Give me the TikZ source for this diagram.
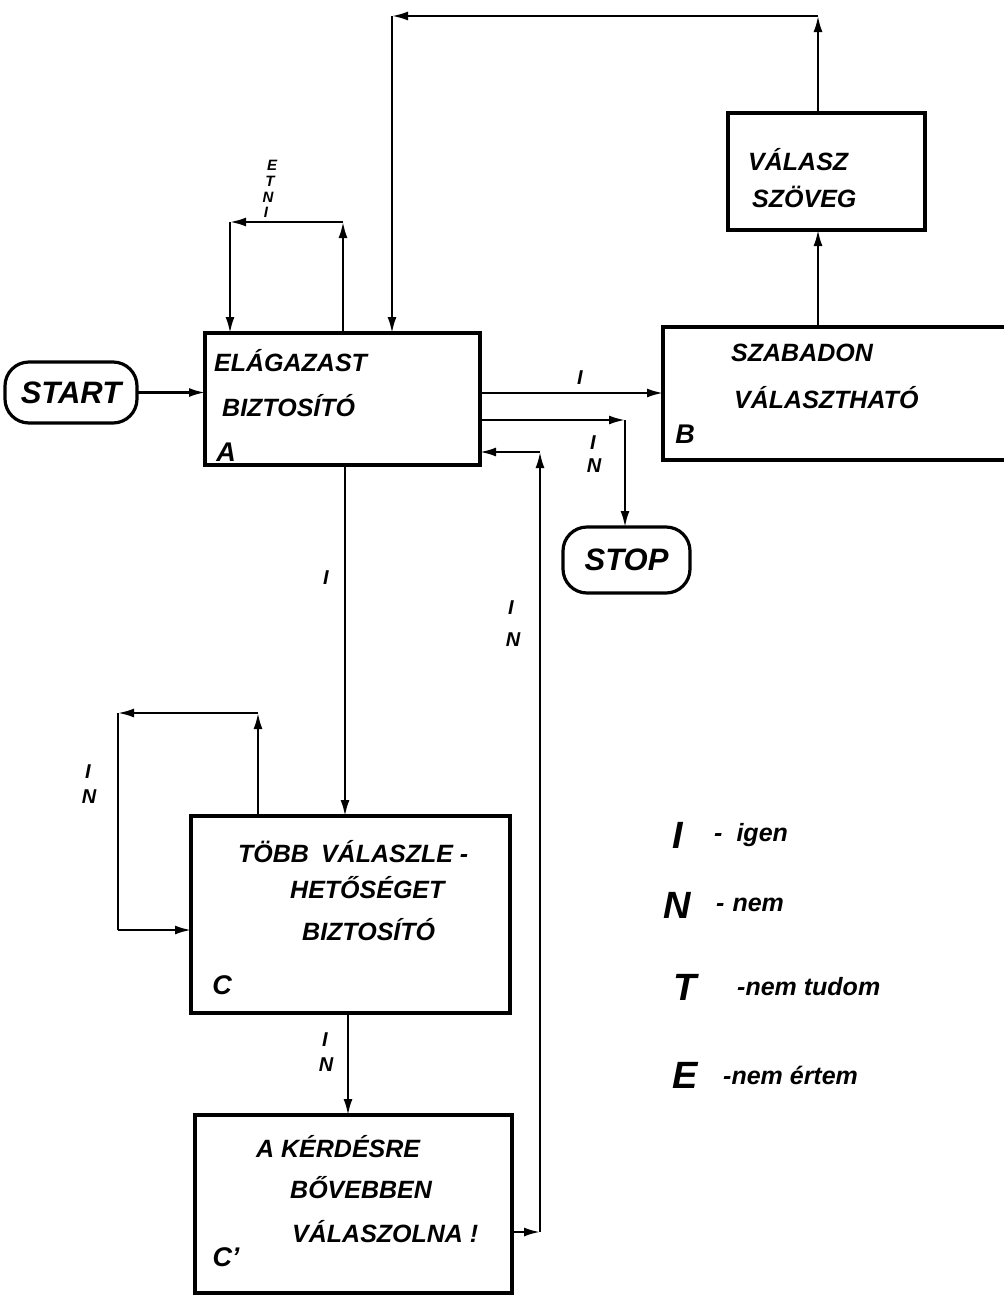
\documentclass[tikz,border=0pt]{standalone}
\usepackage{fontspec}
\setmainfont{Liberation Sans}
\usetikzlibrary{arrows.meta}
\begin{document}
\begin{tikzpicture}[x=1pt,y=-1pt,
  box/.style={draw, line width=3.4pt, rectangle, inner sep=0pt, outer sep=0pt},
  term/.style={draw, line width=3.2pt, rectangle, rounded corners=24pt, inner sep=0pt, outer sep=0pt,
    font=\fontsize{31}{32}\selectfont\bfseries\itshape},
  conn/.style={line width=2.2pt, -{Latex[length=16pt,width=9pt]}},
  plain/.style={line width=2.2pt},
  txt/.style={inner sep=0pt, anchor=west, font=\fontsize{25}{27}\selectfont\bfseries\itshape},
  corner/.style={inner sep=0pt, font=\fontsize{27}{28}\selectfont\bfseries\itshape},
  lab/.style={inner sep=0pt, font=\fontsize{20}{21}\selectfont\bfseries\itshape},
  tiny/.style={inner sep=0pt, font=\fontsize{15}{15}\selectfont\bfseries\itshape},
  big/.style={inner sep=0pt, font=\fontsize{38}{40}\selectfont\bfseries\itshape},
  leg/.style={inner sep=0pt, anchor=west, font=\fontsize{25}{27}\selectfont\bfseries\itshape}
]
\fill[white] (0,0) rectangle (1004,1296);
\useasboundingbox (0,0) rectangle (1004,1296);

% boxes
\node[term, minimum width=132pt, minimum height=61pt] (START) at (71,392.5) {START};
\node[term, minimum width=127pt, minimum height=66pt] (STOP) at (626.5,560) {STOP};
\node[box, minimum width=275pt, minimum height=132pt] (A) at (342.5,399) {};
\node[box, minimum width=367pt, minimum height=133pt] (B) at (846.5,393.5) {};
\node[box, minimum width=197pt, minimum height=117pt] (V) at (826.5,171.5) {};
\node[box, minimum width=319pt, minimum height=197pt] (C) at (350.5,914.5) {};
\node[box, minimum width=317pt, minimum height=178pt] (Cp) at (353.5,1204) {};

% box texts
\node[txt] (At1) at (214,361) {ELÁGAZAST};
\node[txt] (At2) at (222,406) {BIZTOSÍTÓ};
\node[corner] (Al) at (226,452) {A};
\node[txt] (Bt1) at (731,353) {SZABADON};
\node[txt] (Bt2) at (734,398) {VÁLASZTHATÓ};
\node[corner] (Bl) at (685,434) {B};
\node[txt] (Vt1) at (748,160) {VÁLASZ};
\node[txt] (Vt2) at (752,197) {SZÖVEG};
\node[txt] (Ct1) at (238,852) {TÖBB\hspace{12pt}VÁLASZLE -};
\node[txt] (Ct2) at (290,888) {HETŐSÉGET};
\node[txt] (Ct3) at (302,930) {BIZTOSÍTÓ};
\node[corner] (Cl) at (222,985) {C};
\node[txt] (Cpt1) at (256,1147) {A KÉRDÉSRE};
\node[txt] (Cpt2) at (290,1188) {BŐVEBBEN};
\node[txt] (Cpt3) at (292,1232) {VÁLASZOLNA !};
\node[corner] (Cpl) at (226,1257) {C'};

% coordinates
\coordinate (yAB) at (0,393);
\coordinate (kS) at (625,420);
\coordinate (k1) at (540,1232);
\coordinate (k2) at (540,452);
\coordinate (e1) at (343,222);
\coordinate (e2) at (230,222);
\coordinate (v1) at (818,16);
\coordinate (v2) at (392,16);
\coordinate (xAC) at (345,0);
\coordinate (xCC) at (348,0);
\coordinate (c1) at (258,713);
\coordinate (c2) at (118,713);
\coordinate (c3) at (118,930);

% connectors
\draw[conn] (START.east) -- (START.east -| A.west);
\draw[conn] (A.east |- yAB) -- (B.west |- yAB);
\draw[conn] (A.east |- kS) -- (kS);
\draw[conn] (kS) -- (STOP.north -| kS);
\draw[conn] (Cp.east |- k1) -- (k1);
\draw[conn] (k1) -- (k2);
\draw[conn] (k2) -- (A.east |- k2);
\draw[conn] (A.north -| e1) -- (e1);
\draw[conn] (e1) -- (e2);
\draw[conn] (e2) -- (A.north -| e2);
\draw[conn] (B.north -| v1) -- (V.south -| v1);
\draw[conn] (V.north -| v1) -- (v1);
\draw[conn] (v1) -- (v2);
\draw[conn] (v2) -- (A.north -| v2);
\draw[conn] (A.south -| xAC) -- (C.north -| xAC);
\draw[conn] (C.north -| c1) -- (c1);
\draw[conn] (c1) -- (c2);
\draw[plain] (c2) -- (c3);
\draw[conn] (c3) -- (C.west |- c3);
\draw[conn] (C.south -| xCC) -- (Cp.north -| xCC);

% connector labels
\node[lab] (l1) at (580,378) {I};
\node[lab] (l2) at (593,443) {I};
\node[lab] (l3) at (594,466) {N};
\node[lab] (l4) at (511,608) {I};
\node[lab] (l5) at (513,640) {N};
\node[lab] (l6) at (326,578) {I};
\node[lab] (l7) at (88,772) {I};
\node[lab] (l8) at (89,797) {N};
\node[lab] (l9) at (325,1040) {I};
\node[lab] (l10) at (326,1065) {N};
\node[tiny] (eE) at (272,165) {E};
\node[tiny] (eT) at (270,181) {T};
\node[tiny] (eN) at (268,197) {N};
\node[tiny] (eI) at (266,212) {I};

% legend
\node[big] (gI) at (678,835) {I};
\node[leg] (gI2) at (714,835) {-\hspace{14pt}igen};
\node[big] (gN) at (677,905) {N};
\node[leg] (gN2) at (716,905) {-\hspace{8pt}nem};
\node[big] (gT) at (685,987) {T};
\node[leg] (gT2) at (737,987) {-nem tudom};
\node[big] (gE) at (685,1075) {E};
\node[leg] (gE2) at (723,1075) {-nem értem};
\end{tikzpicture}
\end{document}
